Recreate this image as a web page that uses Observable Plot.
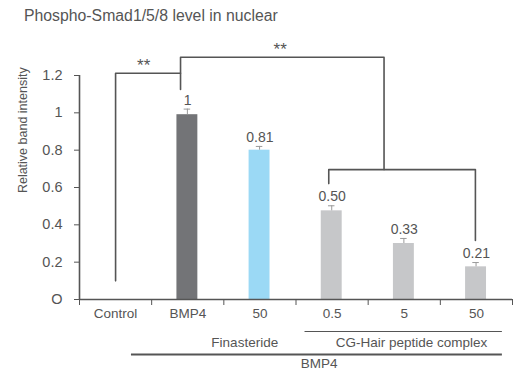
<!DOCTYPE html>
<html>
<head>
<meta charset="utf-8">
<script src="https://cdn.jsdelivr.net/npm/d3@7"></script>
<script src="https://cdn.jsdelivr.net/npm/@observablehq/plot@0.6"></script>
<style>
  body { margin: 0; background: #fff; }
  #title { font-family: "Liberation Sans", Arial, sans-serif; font-size: 15.8px; color: #555;
           height: 30px; box-sizing: border-box; padding: 7px 0 0 24px; line-height: 18px; }
  svg { display: block; }
</style>
</head>
<body>
<div id="title">Phospho-Smad1/5/8 level in nuclear</div>
<div id="chart"></div>
<script>
// Data
const categories = ["Control", "BMP4", "50", "0.5", "5", "50"];
const values = [0, 0.99, 0.80, 0.475, 0.30, 0.175];
const errors = [0, 0.03, 0.02, 0.027, 0.027, 0.023];
const valueLabels = ["", "1", "0.81", "0.50", "0.33", "0.21"];
const barColors = ["#737477", "#737477", "#9bd9f5", "#c6c7c9", "#c6c7c9", "#c6c7c9"];
const yTicks = [0, 0.2, 0.4, 0.6, 0.8, 1, 1.2];
const yTickLabels = ["O", "0.2", "0.4", "0.6", "0.8", "1", "1.2"];
const yLabel = "Relative band intensity";
// significance brackets (category index, value)
const bracketPaths = [
  [[0, 0.10], [0, 1.212], [0.9, 1.212]],
  [[0.9, 1.125], [0.9, 1.298], [3.72, 1.298], [3.72, 0.696]],
  [[2.954, 0.621], [2.954, 0.696], [4.986, 0.696], [4.986, 0.316]]
];
const starLabels = [{x: 0.39, y: 1.255, text: "**"}, {x: 2.28, y: 1.34, text: "**"}];
// group annotations under axis
const groupLabels = [
  {text: "Finasteride", x: 1.79, dy: 43},
  {text: "CG-Hair peptide complex", x: 4.1, dy: 43},
  {text: "BMP4", x: 2.82, dy: 64}
];
const groupLines = [
  {x1: 2.625, x2: 5.36, dy: 32, w: 1},
  {x1: 0.22, x2: 5.36, dy: 55, w: 2}
];

const bars = categories.map((c, i) => ({i, c, v: values[i], e: errors[i], lab: valueLabels[i], col: barColors[i]}));
const barsShown = bars.filter(d => d.v > 0);
const segs = [];
bracketPaths.forEach((p, k) => p.forEach(([x, y]) => segs.push({k, x, y})));
const boundaries = d3.range(categories.length + 1).map(i => i - 0.5);
const textCol = "#555";
const font = "'Liberation Sans', Arial, sans-serif";

const plot = Plot.plot({
  width: 523, height: 342,
  marginTop: 45, marginBottom: 73, marginLeft: 79, marginRight: 11,
  x: {domain: [-0.5, 5.5], axis: null},
  y: {domain: [0, 1.2], axis: null},
  style: {fontFamily: font, color: textCol, background: "#fff"},
  marks: [
    Plot.rectY(barsShown, {x1: d => d.i - 0.15, x2: d => d.i + 0.14, y: "v", fill: "col"}),
    Plot.ruleX(barsShown, {x: d => d.i - 0.005, y1: "v", y2: d => d.v + d.e, stroke: "#9a9a9a", strokeWidth: 1}),
    Plot.ruleY(barsShown, {y: d => d.v + d.e, x1: d => d.i - 0.05, x2: d => d.i + 0.04, stroke: "#9a9a9a", strokeWidth: 1}),
    Plot.text(barsShown, {x: "i", y: d => d.v + d.e, text: "lab", dy: -9, fontSize: 14, fill: textCol}),
    Plot.line(segs, {x: "x", y: "y", z: "k", stroke: "#555", strokeWidth: 1.6}),
    Plot.text(starLabels, {x: "x", y: "y", text: "text", fontSize: 17, fill: textCol}),
    // axes
    Plot.ruleX([-0.5], {stroke: "#555", strokeWidth: 1.6}),
    Plot.ruleY([0], {stroke: "#555", strokeWidth: 1.6}),
    Plot.axisY({ticks: yTicks, tickFormat: d => yTickLabels[yTicks.indexOf(d)], tickSize: 5, tickPadding: 12, fontSize: 14.5, stroke: "#555", fill: textCol}),
    Plot.axisX({ticks: boundaries, tickFormat: () => "", tickSize: 6, stroke: "#555"}),
    Plot.text(bars, {x: "i", y: () => 0, text: "c", dy: 14, fontSize: 13.5, fill: textCol}),
    ...groupLabels.map(g => Plot.text([g], {x: "x", y: () => 0, text: "text", dy: g.dy, fontSize: 13.5, fill: textCol})),
    ...groupLines.map(g => Plot.ruleY([0], {x1: g.x1, x2: g.x2, dy: g.dy, stroke: "#555", strokeWidth: g.w})),
    Plot.text([0.57], {y: d => d, text: () => yLabel, frameAnchor: "left", dx: -57, rotate: -90, fontSize: 12.5, fill: textCol})
  ]
});
document.getElementById("chart").appendChild(plot);
</script>
</body>
</html>
